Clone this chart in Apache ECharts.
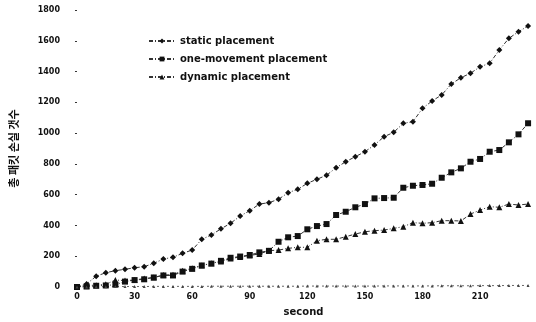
<!DOCTYPE html>
<html>
<head>
<meta charset="utf-8">
<script src="https://cdn.jsdelivr.net/npm/echarts@6/dist/echarts.min.js"></script>
<style>
  html, body { margin: 0; padding: 0; background: #fff; }
  #myCharts { width: 536px; height: 322px; }
</style>
</head>
<body>
<div id="myCharts"></div>
<script>
let seconds = [0, 5, 10, 15, 20, 25, 30, 35, 40, 45, 50, 55, 60, 65, 70, 75, 80, 85, 90, 95,
  100, 105, 110, 115, 120, 125, 130, 135, 140, 145, 150, 155, 160, 165, 170, 175, 180, 185, 190, 195,
  200, 205, 210, 215, 220, 225, 230, 235];
let staticData = [0, 20, 70, 93, 106, 115, 125, 132, 154, 182, 193, 219, 240, 310, 338, 378, 414, 461, 496, 539,
  548, 570, 613, 635, 674, 700, 726, 775, 814, 847, 879, 923, 977, 1005, 1064, 1074, 1161, 1209, 1248, 1319,
  1360, 1389, 1431, 1454, 1540, 1616, 1659, 1696];
let oneMoveData = [0, 3, 8, 10, 15, 35, 45, 50, 62, 75, 75, 100, 118, 140, 152, 170, 190, 198, 208, 225,
  235, 294, 323, 331, 375, 396, 409, 468, 489, 518, 539, 576, 578, 580, 645, 658, 663, 671, 710, 745,
  771, 814, 832, 879, 890, 940, 992, 1064];
let dynamicData = [0, 10, 12, 18, 45, 42, 45, 55, 62, 78, 80, 105, 122, 140, 154, 165, 185, 195, 205, 215,
  236, 240, 251, 258, 258, 301, 310, 310, 327, 344, 359, 366, 370, 381, 392, 418, 414, 418, 431, 431,
  429, 474, 500, 522, 518, 539, 533, 539];
let baseData = [0, 0, 2, 2, 3, 3, 3, 3, 4, 4, 4, 4, 4, 4, 5, 5, 5, 5, 5, 5,
  5, 5, 5, 5, 6, 6, 6, 6, 6, 6, 6, 6, 7, 7, 7, 7, 7, 7, 8, 8,
  8, 8, 9, 9, 9, 10, 10, 10];
let yTicks = [0, 200, 400, 600, 800, 1000, 1200, 1400, 1600, 1800];

function pairs(vals) {
  return vals.map((v, i) => [seconds[i], v]);
}

let lineStyle = { color: "#333", width: 1, type: [4, 2, 1, 2] };

let option = {
  animation: false,
  textStyle: { fontFamily: "DejaVu Sans" },
  grid: { left: 75, right: 6, top: 10, bottom: 35 },
  legend: {
    orient: "vertical",
    left: 143,
    top: 31,
    itemGap: 8,
    itemWidth: 26,
    itemHeight: 6,
    textStyle: { fontSize: 10, fontWeight: "bold", color: "#111", fontFamily: "DejaVu Sans" },
    data: ["static placement", "one-movement placement", "dynamic placement"],
  },
  xAxis: {
    type: "value",
    min: 0,
    max: 236,
    interval: 30,
    name: "second",
    nameLocation: "middle",
    nameGap: 20,
    nameTextStyle: { fontSize: 10, fontWeight: "bold", color: "#111" },
    axisLine: { show: false },
    axisTick: { show: false },
    splitLine: { show: false },
    axisLabel: { fontSize: 8, fontWeight: "bold", color: "#111", margin: 6, showMaxLabel: false },
  },
  yAxis: {
    type: "value",
    min: yTicks[0],
    max: yTicks[yTicks.length - 1],
    interval: 200,
    offset: 8,
    name: "총 패킷 손실 갯수",
    nameLocation: "middle",
    nameGap: 50,
    nameTextStyle: { fontSize: 11, fontWeight: "bold", color: "#111", fontFamily: "Noto Sans CJK KR" },
    axisLine: { show: false },
    axisTick: { show: true, length: 2, lineStyle: { color: "#333" } },
    splitLine: { show: false },
    axisLabel: { fontSize: 8, fontWeight: "bold", color: "#111", margin: 9, formatter: (v) => String(v) },
  },
  series: [
    {
      name: "static placement",
      type: "line",
      data: pairs(staticData),
      symbol: "diamond",
      symbolSize: 6,
      itemStyle: { color: "#111" },
      lineStyle: lineStyle,
    },
    {
      name: "one-movement placement",
      type: "line",
      data: pairs(oneMoveData),
      symbol: "rect",
      symbolSize: 6,
      itemStyle: { color: "#111" },
      lineStyle: lineStyle,
    },
    {
      name: "dynamic placement",
      type: "line",
      data: pairs(dynamicData),
      symbol: "triangle",
      symbolSize: 6,
      itemStyle: { color: "#111" },
      lineStyle: lineStyle,
    },
    {
      name: "base",
      type: "line",
      data: pairs(baseData),
      symbol: "triangle",
      symbolSize: 3,
      itemStyle: { color: "#444" },
      lineStyle: { color: "#666", width: 1, type: [2, 3] },
    },
  ],
};

let myChart = echarts.init(document.getElementById("myCharts"));
myChart.setOption(option);
</script>
</body>
</html>
